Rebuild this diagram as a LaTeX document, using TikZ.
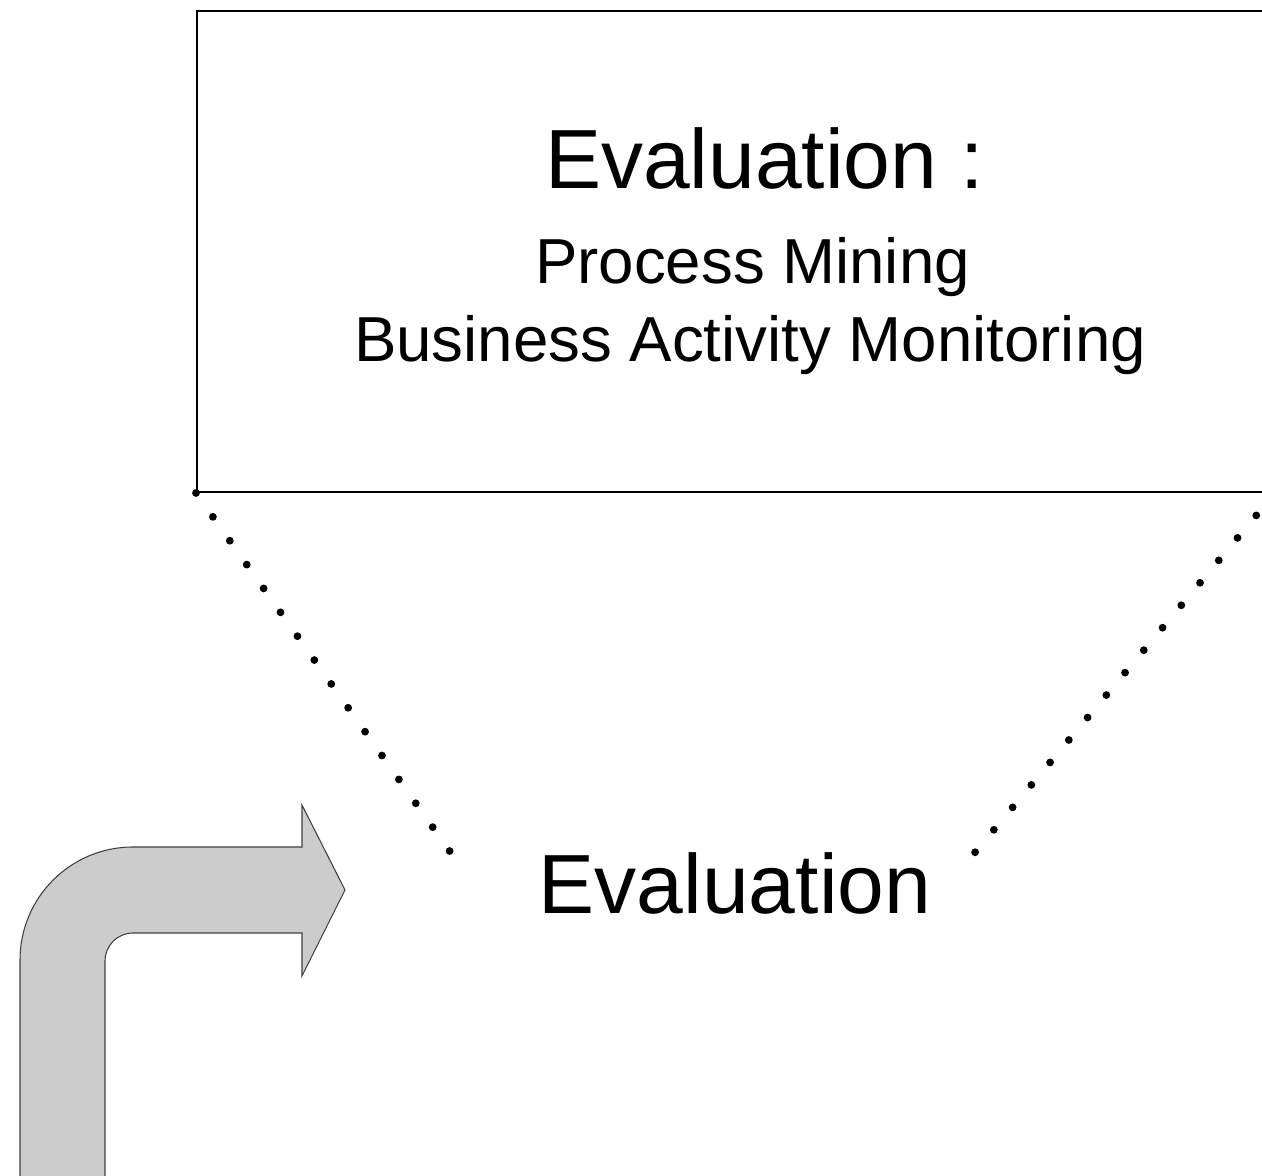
\documentclass[tikz,border=0pt]{standalone}
\usepackage{fontspec}
\setmainfont{Liberation Sans}
\usepackage{tikz}
\usetikzlibrary{arrows.meta}

\begin{document}
\begin{tikzpicture}[
    bigtext/.style={font=\fontsize{23.9pt}{28pt}\selectfont, inner sep=0pt, anchor=base},
    smalltext/.style={font=\fontsize{18.1pt}{22pt}\selectfont, inner sep=0pt, anchor=base},
    dotline/.style={line width=0.078cm, line cap=round, dash pattern=on 0pt off 0.2925cm},
    bentarrow/.style={fill=black!20, draw=black!75, line width=0.3pt}
  ]
      % Variables
      \def \shaftl {0.20}
      \def \shaftr {1.05}
      \def \headx  {3.02}
      \def \tipx   {3.45}

      \useasboundingbox (0,0) rectangle (12.62,11.76);

      % Box
      \node[rectangle, draw, line width=0.02cm, inner sep=0pt, minimum width=10.77cm, minimum height=4.81cm] (evalbox) at (7.355,9.245) {};

      % Texts
      \node[bigtext]   (title) at (7.645,9.87) {Evaluation :};
      \node[smalltext] (pm)    at (7.525,8.92) {Process Mining};
      \node[smalltext] (bam)   at (7.50,8.14)  {Business Activity Monitoring};
      \node[bigtext]   (eval)  at (7.35,2.62)  {Evaluation};

      % Dotted lines
      \coordinate (leftend)  at (4.51,3.23);
      \coordinate (rightend) at (9.72,3.20);
      \draw[dotline] (evalbox.south west) -- (leftend);
      \draw[dotline] (evalbox.south east) -- (rightend);

      % Bent arrow
      \filldraw[bentarrow] (\shaftl,-0.05) -- (\shaftl,2.16) arc (180:90:1.13) -- (\headx,3.29) -- (\headx,3.71)
        -- (\tipx,2.86) -- (\headx,2.00) -- (\headx,2.43) -- (1.33,2.43) arc (90:180:0.28) -- (\shaftr,-0.05) -- cycle;

\end{tikzpicture}
\end{document}
